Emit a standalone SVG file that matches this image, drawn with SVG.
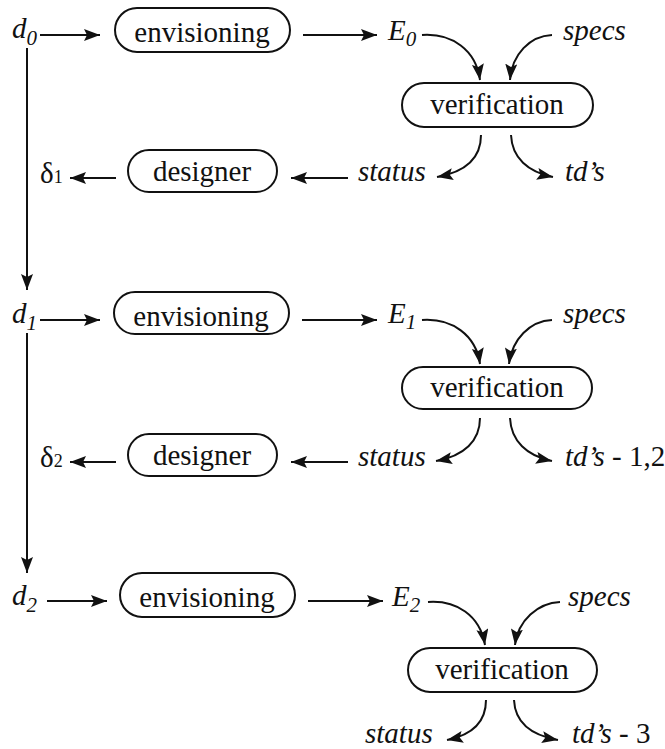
<svg xmlns="http://www.w3.org/2000/svg" width="665" height="749" viewBox="0 0 665 749">
<defs>
<marker id="ah" markerUnits="userSpaceOnUse" markerWidth="18" markerHeight="14" refX="16" refY="6" orient="auto">
<path d="M0,0 L16,6 L0,12 L3,6 z" fill="#111"/>
</marker>
<style>
.box{fill:none;stroke:#111;stroke-width:2}
.t{font-family:"Liberation Serif","Times New Roman",serif;font-size:29px;fill:#111}
.c{text-anchor:middle}
.i{font-style:italic}
.sub{font-size:21px;font-style:italic}
.ln{fill:none;stroke:#111;stroke-width:2}
.la{fill:none;stroke:#111;stroke-width:2;marker-end:url(#ah)}
</style>
</defs>
<rect width="665" height="749" fill="#fff"/>

<!-- Row 1 -->
<g id="d0"><text class="t i" x="12" y="38">d<tspan class="sub" dy="7">0</tspan></text></g>
<g id="env0"><rect class="box" x="115" y="8" width="175" height="44" rx="22"/><text class="t c" x="202" y="42">envisioning</text></g>
<g id="E0"><text class="t i" x="388" y="40">E<tspan class="sub" dy="6">0</tspan></text></g>
<g id="specs0"><text class="t i" x="563" y="40">specs</text></g>
<g id="ver0"><rect class="box" x="402" y="83" width="191" height="44" rx="22"/><text class="t c" x="497" y="114">verification</text></g>
<g id="status0"><text class="t i" x="358" y="181">status</text></g>
<g id="tds0"><text class="t i" x="565" y="181">td’s</text></g>
<g id="des0"><rect class="box" x="128" y="150" width="149" height="42" rx="21"/><text class="t c" x="202" y="181">designer</text></g>
<g id="delta1"><text class="t" x="40" y="183">δ<tspan font-size="18">1</tspan></text></g>

<!-- Row 2 -->
<g id="d1"><text class="t i" x="12" y="323">d<tspan class="sub" dy="7">1</tspan></text></g>
<g id="env1"><rect class="box" x="114" y="292" width="175" height="42" rx="21"/><text class="t c" x="201" y="326">envisioning</text></g>
<g id="E1"><text class="t i" x="388" y="323">E<tspan class="sub" dy="6">1</tspan></text></g>
<g id="specs1"><text class="t i" x="563" y="323">specs</text></g>
<g id="ver1"><rect class="box" x="402" y="367" width="190" height="42" rx="21"/><text class="t c" x="497" y="397">verification</text></g>
<g id="status1"><text class="t i" x="358" y="466">status</text></g>
<g id="tds1"><text class="t" x="565" y="466"><tspan class="i">td’s</tspan> - 1,2</text></g>
<g id="des1"><rect class="box" x="128" y="434" width="149" height="42" rx="21"/><text class="t c" x="202" y="465">designer</text></g>
<g id="delta2"><text class="t" x="40" y="467">δ<tspan font-size="18">2</tspan></text></g>

<!-- Row 3 -->
<g id="d2"><text class="t i" x="12" y="605">d<tspan class="sub" dy="7">2</tspan></text></g>
<g id="env2"><rect class="box" x="120" y="573" width="175" height="44" rx="22"/><text class="t c" x="207" y="607">envisioning</text></g>
<g id="E2"><text class="t i" x="392" y="606">E<tspan class="sub" dy="6">2</tspan></text></g>
<g id="specs2"><text class="t i" x="568" y="606">specs</text></g>
<g id="ver2"><rect class="box" x="408" y="648" width="189" height="44" rx="22"/><text class="t c" x="502" y="679">verification</text></g>
<g id="status2"><text class="t i" x="365" y="743">status</text></g>
<g id="tds2"><text class="t" x="572" y="743"><tspan class="i">td’s</tspan> - 3</text></g>

<g id="connectors">
<!-- row 1 -->
<path class="la" d="M40,35 L100,35"/>
<path class="la" d="M303,35 L377,35"/>
<path class="la" d="M422,35 C452,33 476,50 480,80"/>
<path class="la" d="M552,35 C530,36 512,54 510,80"/>
<path class="la" d="M481,135 C481,158 465,172 437,177"/>
<path class="la" d="M511,135 C512,158 528,172 553,177"/>
<path class="la" d="M348,178 L291,178"/>
<path class="la" d="M116,178 L70,178"/>
<path class="la" d="M27,48 L27,290"/>
<!-- row 2 -->
<path class="la" d="M40,320 L100,320"/>
<path class="la" d="M302,320 L377,320"/>
<path class="la" d="M422,320 C452,318 476,335 480,364"/>
<path class="la" d="M552,320 C530,321 512,339 509,364"/>
<path class="la" d="M480,418 C480,441 464,456 436,461"/>
<path class="la" d="M510,418 C511,441 527,456 552,461"/>
<path class="la" d="M348,462 L291,462"/>
<path class="la" d="M116,462 L70,462"/>
<path class="la" d="M27,333 L27,573"/>
<!-- row 3 -->
<path class="la" d="M47,601 L107,601"/>
<path class="la" d="M308,601 L383,601"/>
<path class="la" d="M428,602 C456,600 480,615 485,645"/>
<path class="la" d="M560,602 C538,603 518,620 515,645"/>
<path class="la" d="M486,700 C486,722 472,735 447,740"/>
<path class="la" d="M514,700 C515,722 530,735 558,740"/>
</g>
</svg>
